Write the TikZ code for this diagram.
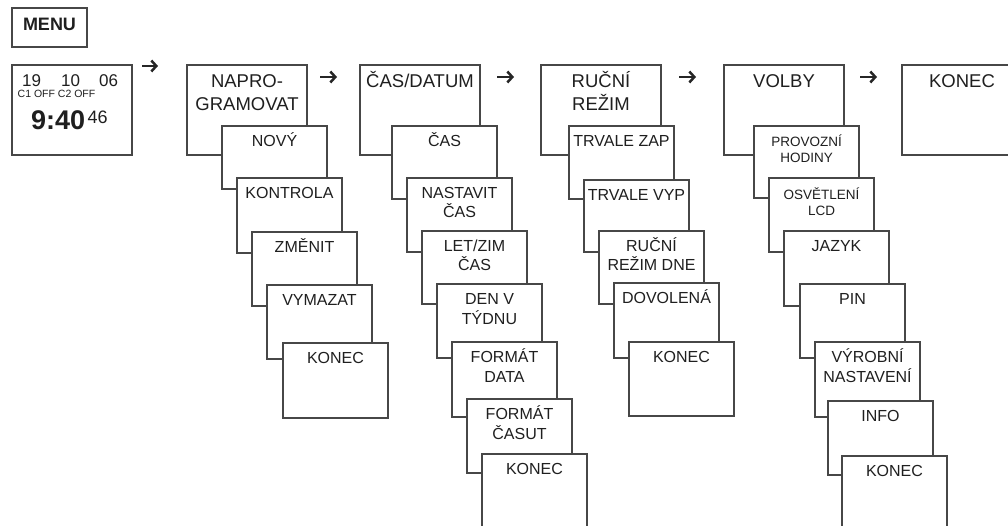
\documentclass[tikz,border=0pt]{standalone}
\usepackage{fontspec}
\setmainfont{Liberation Sans}
\usetikzlibrary{arrows.meta}

\begin{document}
\begin{tikzpicture}[x=1pt, y=-1pt,
    box/.style={draw=black!72, fill=white, line width=1.1pt, inner sep=0pt, outer sep=0pt, anchor=north west},
    mainbox/.style={box, minimum width=120, minimum height=90},
    card/.style={box, minimum width=105},
    maintxt/.style={anchor=base, align=center, text=black!88, font=\fontsize{18.5}{23}\selectfont},
    subtxt/.style={anchor=base, align=center, text=black!88, font=\fontsize{16}{19.5}\selectfont},
    smalltxt/.style={subtxt, font=\fontsize{13.5}{16.5}\selectfont},
    nextarr/.style={line width=2.5pt, black!85, -{Straight Barb[length=5pt,width=11pt]}}]
  \clip (0,0) rectangle (1008,526);

  % MENU + display
  \node[box, minimum width=75, minimum height=39] (menu) at (12,8) {};
  \node[anchor=base, text=black!88, font=\fontsize{18}{22}\selectfont\bfseries] (menu-t) at ([yshift=-23pt]menu.north) {MENU};
  \node[mainbox] (disp) at (12,65) {};
  \node[anchor=base west, inner sep=0pt, text=black!88, font=\fontsize{17}{20}\selectfont] (d-day) at ([shift={(10,22)}]disp.north west) {19};
  \node[anchor=base west, inner sep=0pt, text=black!88, font=\fontsize{17}{20}\selectfont] (d-mon) at ([shift={(49,22)}]disp.north west) {10};
  \node[anchor=base west, inner sep=0pt, text=black!88, font=\fontsize{17}{20}\selectfont] (d-yr) at ([shift={(87,22)}]disp.north west) {06};
  \node[anchor=base west, inner sep=0pt, text=black!88, font=\fontsize{10.5}{12}\selectfont] (d-ch) at ([shift={(5.5,33)}]disp.north west) {C1 OFF C2 OFF};
  \node[anchor=base west, inner sep=0pt, text=black!88, font=\fontsize{27}{30}\selectfont\bfseries] (d-hm) at ([shift={(19,65)}]disp.north west) {9:40};
  \node[anchor=base west, inner sep=0pt, text=black!88, font=\fontsize{18}{20}\selectfont] (d-sec) at ([shift={(75.5,59)}]disp.north west) {46};
  \draw[nextarr] ([shift={(10,1)}]disp.north east) -- ++(16,0);

  % NAPROGRAMOVAT (two lines: base is the last line)
  \node[mainbox] (nap) at (187,65) {};
  \node[maintxt] (nap-t) at ([yshift=-45.5pt]nap.north) {NAPRO-\\GRAMOVAT};
  \node[card, minimum height=63] (nap1) at (222,126) {};
  \node[subtxt] (nap1-t) at ([yshift=-20.5pt]nap1.north) {NOVÝ};
  \node[card, minimum height=75] (nap2) at (237,178) {};
  \node[subtxt] (nap2-t) at ([yshift=-20.5pt]nap2.north) {KONTROLA};
  \node[card, minimum height=74] (nap3) at (252,232) {};
  \node[subtxt] (nap3-t) at ([yshift=-20.5pt]nap3.north) {ZMĚNIT};
  \node[card, minimum height=74] (nap4) at (267,285) {};
  \node[subtxt] (nap4-t) at ([yshift=-20.5pt]nap4.north) {VYMAZAT};
  \node[card, minimum height=75] (nap5) at (283,343) {};
  \node[subtxt] (nap5-t) at ([yshift=-20.5pt]nap5.north) {KONEC};
  \draw[nextarr] ([shift={(13,12)}]nap.north east) -- ++(17,0);

  % CAS/DATUM
  \node[mainbox] (cas) at (360,65) {};
  \node[maintxt] (cas-t) at ([yshift=-22.5pt]cas.north) {ČAS/DATUM};
  \node[card, minimum height=73] (cas1) at (392,126) {};
  \node[subtxt] (cas1-t) at ([yshift=-20.5pt]cas1.north) {ČAS};
  \node[card, minimum height=74] (cas2) at (407,178) {};
  \node[subtxt] (cas2-t) at ([yshift=-40pt]cas2.north) {NASTAVIT\\ČAS};
  \node[card, minimum height=73] (cas3) at (422,231) {};
  \node[subtxt] (cas3-t) at ([yshift=-40pt]cas3.north) {LET/ZIM\\ČAS};
  \node[card, minimum height=74] (cas4) at (437,284) {};
  \node[subtxt] (cas4-t) at ([yshift=-40pt]cas4.north) {DEN V\\TÝDNU};
  \node[card, minimum height=75] (cas5) at (452,342) {};
  \node[subtxt] (cas5-t) at ([yshift=-40pt]cas5.north) {FORMÁT\\DATA};
  \node[card, minimum height=74] (cas6) at (467,399) {};
  \node[subtxt] (cas6-t) at ([yshift=-40pt]cas6.north) {FORMÁT\\ČASUT};
  \node[card, minimum height=80] (cas7) at (482,454) {};
  \node[subtxt] (cas7-t) at ([yshift=-20.5pt]cas7.north) {KONEC};
  \draw[nextarr] ([shift={(17,12)}]cas.north east) -- ++(17,0);

  % RUCNI REZIM
  \node[mainbox] (rucni) at (541,65) {};
  \node[maintxt] (rucni-t) at ([yshift=-45.5pt]rucni.north) {RUČNÍ\\REŽIM};
  \node[card, minimum height=73] (rucni1) at (569,126) {};
  \node[subtxt] (rucni1-t) at ([yshift=-20.5pt]rucni1.north) {TRVALE ZAP};
  \node[card, minimum height=72] (rucni2) at (584,180) {};
  \node[subtxt] (rucni2-t) at ([yshift=-20.5pt]rucni2.north) {TRVALE VYP};
  \node[card, minimum height=73] (rucni3) at (599,231) {};
  \node[subtxt] (rucni3-t) at ([yshift=-40pt]rucni3.north) {RUČNÍ\\REŽIM DNE};
  \node[card, minimum height=75] (rucni4) at (614,283) {};
  \node[subtxt] (rucni4-t) at ([yshift=-20.5pt]rucni4.north) {DOVOLENÁ};
  \node[card, minimum height=74] (rucni5) at (629,342) {};
  \node[subtxt] (rucni5-t) at ([yshift=-20.5pt]rucni5.north) {KONEC};
  \draw[nextarr] ([shift={(18,12)}]rucni.north east) -- ++(17,0);

  % VOLBY
  \node[mainbox] (volby) at (724,65) {};
  \node[maintxt] (volby-t) at ([yshift=-22.5pt]volby.north) {VOLBY};
  \node[card, minimum height=72] (volby1) at (754,126) {};
  \node[smalltxt] (volby1-t) at ([yshift=-37pt]volby1.north) {PROVOZNÍ\\HODINY};
  \node[card, minimum height=74] (volby2) at (769,178) {};
  \node[smalltxt] (volby2-t) at ([yshift=-38pt]volby2.north) {OSVĚTLENÍ\\LCD};
  \node[card, minimum height=75] (volby3) at (784,231) {};
  \node[subtxt] (volby3-t) at ([yshift=-20.5pt]volby3.north) {JAZYK};
  \node[card, minimum height=74] (volby4) at (800,284) {};
  \node[subtxt] (volby4-t) at ([yshift=-20.5pt]volby4.north) {PIN};
  \node[card, minimum height=75] (volby5) at (815,342) {};
  \node[subtxt] (volby5-t) at ([yshift=-40pt]volby5.north) {VÝROBNÍ\\NASTAVENÍ};
  \node[card, minimum height=74] (volby6) at (828,401) {};
  \node[subtxt] (volby6-t) at ([yshift=-20.5pt]volby6.north) {INFO};
  \node[card, minimum height=80] (volby7) at (842,456) {};
  \node[subtxt] (volby7-t) at ([yshift=-20.5pt]volby7.north) {KONEC};
  \draw[nextarr] ([shift={(16,12)}]volby.north east) -- ++(17,0);

  % KONEC
  \node[mainbox] (konec) at (902,65) {};
  \node[maintxt] (konec-t) at ([yshift=-22.5pt]konec.north) {KONEC};
\end{tikzpicture}
\end{document}
